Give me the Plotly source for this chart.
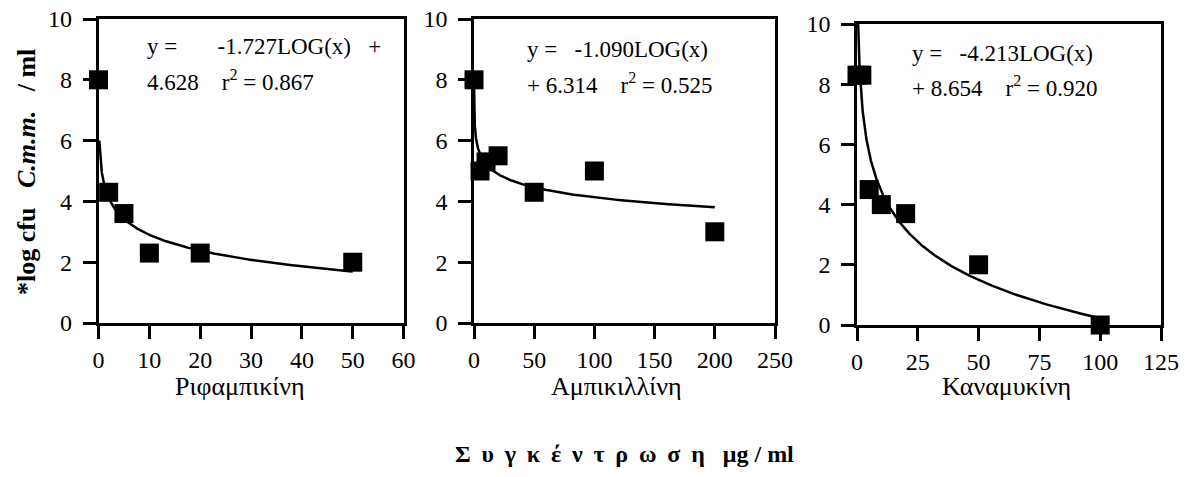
import numpy as np
import plotly.graph_objects as go

# ---- data ----
rif_x = [0, 2, 5, 10, 20, 50]
rif_y = [8.0, 4.3, 3.6, 2.3, 2.3, 2.0]
amp_x = [0, 5, 10, 20, 50, 100, 200]
amp_y = [8.0, 5.0, 5.3, 5.5, 4.3, 5.0, 3.0]
kan_x = [0, 2, 5, 10, 20, 50, 100]
kan_y = [8.3, 8.3, 4.5, 4.0, 3.7, 2.0, 0.0]

# logarithmic trend lines printed on the chart: y = a*LOG(x) + b
fit_a = [-1.727, -1.090, -4.213]
fit_b = [4.628, 6.314, 8.654]
fit_r2 = [0.867, 0.525, 0.920]
fit_xmin = [0.16, 0.04, 0.48]
fit_xmax = [50, 200, 100]

x_titles = ["Ριφαμπικίνη", "Αμπικιλλίνη", "Καναμυκίνη"]
x_ranges = [[0, 60], [0, 250], [0, 125]]
x_dticks = [10, 50, 25]
y_range = [0, 10]
y_dtick = 2

series_x = [rif_x, amp_x, kan_x]
series_y = [rif_y, amp_y, kan_y]

W, H = 1185, 477
def px(x):
    return x / W
def py(y):
    return 1 - y / H

x_domains = [[px(98.5), px(403.6)], [px(474), px(775)], [px(857), px(1161)]]
y_domains = [[py(323), py(19)], [py(323), py(19)], [py(325), py(24)]]

FONT = "Liberation Serif, Times New Roman, serif"
NB = "\u00a0"

fig = go.Figure()

for i in range(3):
    xa = "x" if i == 0 else f"x{i+1}"
    ya = "y" if i == 0 else f"y{i+1}"
    cx = np.geomspace(fit_xmin[i], fit_xmax[i], 400)
    cy = fit_a[i] * np.log10(cx) + fit_b[i]
    fig.add_trace(go.Scatter(x=cx, y=cy, mode="lines", xaxis=xa, yaxis=ya,
                             line=dict(color="black", width=2.5),
                             showlegend=False, hoverinfo="skip"))
    fig.add_trace(go.Scatter(x=series_x[i], y=series_y[i], mode="markers",
                             xaxis=xa, yaxis=ya, cliponaxis=False,
                             marker=dict(symbol="square", size=19, color="black",
                                         line=dict(width=0)),
                             showlegend=False))

layout = dict(
    width=W, height=H,
    margin=dict(l=0, r=0, t=0, b=0, pad=0, autoexpand=False),
    paper_bgcolor="white", plot_bgcolor="white",
    font=dict(family=FONT, size=24, color="black"),
    showlegend=False,
)

for i in range(3):
    xk = "xaxis" if i == 0 else f"xaxis{i+1}"
    yk = "yaxis" if i == 0 else f"yaxis{i+1}"
    ya = "y" if i == 0 else f"y{i+1}"
    xa = "x" if i == 0 else f"x{i+1}"
    layout[xk] = dict(domain=x_domains[i], anchor=ya, range=x_ranges[i],
                      dtick=x_dticks[i], tick0=0, showgrid=False, zeroline=False,
                      automargin=False,
                      showline=True, mirror=True, linecolor="black", linewidth=2.5,
                      ticks="outside", ticklen=13, tickwidth=2.5, tickcolor="black",
                      ticklabelstandoff=0,
                      tickfont=dict(family=FONT, size=24, color="black"))
    layout[yk] = dict(domain=y_domains[i], anchor=xa, range=y_range,
                      dtick=y_dtick, tick0=0, showgrid=False, zeroline=False,
                      automargin=False,
                      showline=True, mirror=True, linecolor="black", linewidth=2.5,
                      ticks="outside", ticklen=13, tickwidth=2.5, tickcolor="black",
                      ticklabelstandoff=6,
                      tickfont=dict(family=FONT, size=24, color="black"))

fig.update_layout(**layout)

def fmt(v):
    return f"{v:.3f}"

eq_lines = [
    (f"y ={NB*7}{fmt(fit_a[0])}LOG(x){NB*3}+",
     f"{fmt(fit_b[0])}{NB*4}r<sup>2</sup> = {fmt(fit_r2[0])}"),
    (f"y ={NB*3}{fmt(fit_a[1])}LOG(x)",
     f"+ {fmt(fit_b[1])}{NB*4}r<sup>2</sup> = {fmt(fit_r2[1])}"),
    (f"y ={NB*3}{fmt(fit_a[2])}LOG(x)",
     f"+ {fmt(fit_b[2])}{NB*4}r<sup>2</sup> = {fmt(fit_r2[2])}"),
]
eq_pos = [(145, 46, 80), (525, 49, 83), (910, 54, 86)]

ann = []
for i in range(3):
    x0, y1, y2 = eq_pos[i]
    for txt, yy in ((eq_lines[i][0], y1), (eq_lines[i][1], y2)):
        ann.append(dict(text=txt, x=px(x0), y=py(yy), xref="paper", yref="paper",
                        xanchor="left", yanchor="middle", showarrow=False,
                        font=dict(family=FONT, size=23, color="black")))

title_x = [240, 616, 1006]
for i in range(3):
    ann.append(dict(text=x_titles[i], x=px(title_x[i]), y=py(386), xref="paper",
                    yref="paper", xanchor="center", yanchor="middle", showarrow=False,
                    font=dict(family=FONT, size=26, color="black")))

ylab = f"<b>*log cfu{NB*3}<i>C.m.m.</i>{NB*3}/ ml</b>"
ann.append(dict(text=ylab, x=px(26), y=py(172), xref="paper", yref="paper",
                xanchor="center", yanchor="middle", textangle=-90, showarrow=False,
                font=dict(family=FONT, size=26, color="black")))

word = "Συγκέντρωση"
sp = NB + "\u2009"
bottom = sp.join(list(word)) + NB * 3 + "μg / ml"
ann.append(dict(text=f"<b>{bottom}</b>", x=px(624), y=py(454), xref="paper",
                yref="paper", xanchor="center", yanchor="middle", showarrow=False,
                font=dict(family=FONT, size=24, color="black")))

fig.update_layout(annotations=ann)
fig.write_html("out.html")
